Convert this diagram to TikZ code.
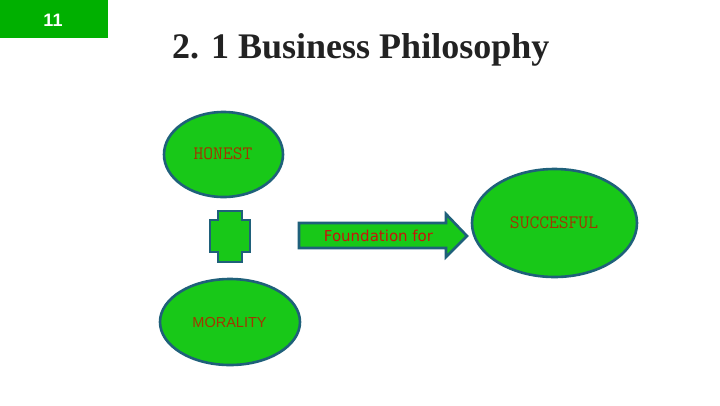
\documentclass[tikz,border=0pt]{standalone}
\usepackage{fontspec}
\setmainfont{Liberation Serif}
\newfontfamily\arialfont{Liberation Sans}
\newfontfamily\dvsans{DejaVu Sans}
\usetikzlibrary{shapes.geometric}
\definecolor{slidegreen}{RGB}{0,176,0}
\definecolor{shapegreen}{RGB}{24,200,24}
\definecolor{edgeblue}{RGB}{31,96,122}
\definecolor{labelbrown}{RGB}{160,55,0}
\definecolor{labelred}{RGB}{200,20,10}
\definecolor{titlegray}{RGB}{34,34,34}
\tikzset{
  blob/.style={ellipse, fill=shapegreen, draw=edgeblue, line width=2.6pt, inner sep=0pt},
  blobtext/.style={text=labelbrown, font=\ttfamily\fontsize{19}{19}\selectfont},
  flat/.style={fill=shapegreen, draw=edgeblue, line width=2.6pt, line join=miter},
}
\begin{document}
\begin{tikzpicture}[x=1pt,y=-1pt]
\useasboundingbox (0,0) rectangle (720,405);
\fill[white] (0,0) rectangle (720,405);
% slide number box
\fill[slidegreen] (0,0) rectangle (108,38);
\node[text=white, font=\arialfont\bfseries\fontsize{18}{18}\selectfont] (num) at (53,20) {11};
% title
\node[anchor=base west, inner sep=0pt, text=titlegray, font=\bfseries\fontsize{36}{36}\selectfont] (title) at (172,58) {2. 1 Business Philosophy};
% ellipses
\node[blob, minimum width=119pt, minimum height=85pt] (honest) at (223.5,154.5) {};
\node[blobtext] (honesttxt) at (223,154) {HONEST};
\node[blob, minimum width=165pt, minimum height=108pt] (succ) at (554.5,223) {};
\node[blobtext] (succtxt) at (554,223) {SUCCESFUL};
\node[blob, minimum width=140pt, minimum height=86pt] (moral) at (230,322) {};
\node[text=labelbrown, font=\arialfont\fontsize{14.5}{14.5}\selectfont] (moraltxt) at (229.5,323) {MORALITY};
% plus
\draw[flat] (218,211) -- (242,211) -- (242,220) -- (250,220) -- (250,252) -- (242,252) -- (242,262) -- (218,262) -- (218,252) -- (210,252) -- (210,220) -- (218,220) -- cycle;
\coordinate (plus) at (230,236);
% arrow
\draw[flat] (299,223) -- (446,223) -- (446,214) -- (467,236) -- (446,257) -- (446,248) -- (299,248) -- cycle;
\node[text=labelred, font=\dvsans\fontsize{15}{15}\selectfont] (found) at (378.5,236) {Foundation for};
\end{tikzpicture}
\end{document}
